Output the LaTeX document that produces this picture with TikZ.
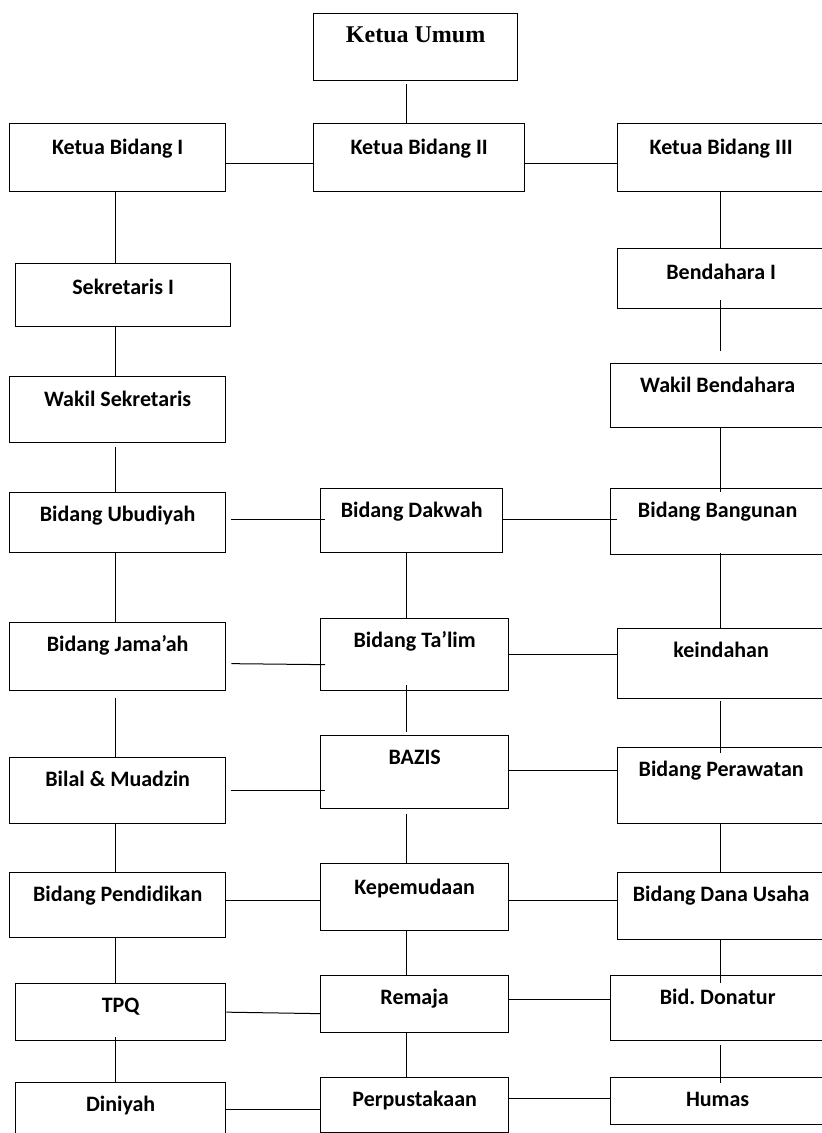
\documentclass[tikz,border=0pt]{standalone}
\usepackage{fontspec}
\setmainfont{Carlito}
\newfontfamily\judulfont{Liberation Serif}
\usetikzlibrary{positioning}

\tikzset{
  kotak/.style={draw, rectangle, inner sep=0pt, anchor=north west, line width=1.3pt,
    font=\bfseries\fontsize{22}{26}\selectfont},
  ukuran/.style n args={4}{minimum width=#1pt, minimum height=#2pt, text height=#3pt, text depth=#4pt},
  garis/.style={line width=1pt}
}

\begin{document}
\begin{tikzpicture}[line cap=butt,line join=miter,x=1pt,y=-1pt]
\useasboundingbox (0,0) rectangle (822,1133);
\clip (0,0) rectangle (822,1133);
% kolom penghubung
\coordinate (kolA) at (115,0);
\coordinate (kolB) at (406,0);
\coordinate (kolC) at (720,0);
% pimpinan
\node[kotak, ukuran={204}{67}{29}{38}, font=\judulfont\bfseries\fontsize{24}{28}\selectfont] (ku) at (313,13) {Ketua Umum};
\node[kotak, ukuran={216}{68}{31}{37}] (kb1) at (9,123) {Ketua Bidang I};
\node[kotak, ukuran={211}{68}{31}{37}] (kb2) at (313,123) {Ketua Bidang II};
\node[kotak, ukuran={207}{68}{31}{37}] (kb3) at (617,123) {Ketua Bidang III};
% sekretaris dan bendahara
\node[kotak, ukuran={215}{63}{31}{32}] (sek1) at (15,263) {Sekretaris I};
\node[kotak, ukuran={207}{60}{31}{29}] (ben1) at (617,248) {Bendahara I};
\node[kotak, ukuran={216}{66}{30}{36}] (wsek) at (9,376) {Wakil Sekretaris};
\node[kotak, ukuran={214}{64}{29}{35}] (wben) at (610,363) {Wakil Bendahara};
% bidang-bidang
\node[kotak, ukuran={216}{60}{29}{31}] (ubud) at (9,492) {Bidang Ubudiyah};
\node[kotak, ukuran={182}{64}{29}{35}] (dakwah) at (320,488) {Bidang Dakwah};
\node[kotak, ukuran={214}{66}{29}{37}] (bangun) at (610,488) {Bidang Bangunan};
\node[kotak, ukuran={216}{68}{29}{39}] (jamaah) at (9,622) {Bidang Jama’ah};
\node[kotak, ukuran={188}{72}{29}{43}] (talim) at (320,618) {Bidang Ta’lim};
\node[kotak, ukuran={207}{70}{29}{41}] (indah) at (617,628) {keindahan};
\node[kotak, ukuran={216}{66}{29}{37}] (bilal) at (9,757) {Bilal \& Muadzin};
\node[kotak, ukuran={188}{73}{29}{44}] (bazis) at (320,735) {BAZIS};
\node[kotak, ukuran={207}{76}{29}{47}] (rawat) at (617,747) {Bidang Perawatan};
\node[kotak, ukuran={216}{65}{29}{36}] (didik) at (9,872) {Bidang Pendidikan};
\node[kotak, ukuran={188}{67}{31}{36}] (muda) at (320,863) {Kepemudaan};
\node[kotak, ukuran={207}{67}{29}{38}] (danus) at (617,872) {Bidang Dana Usaha};
\node[kotak, ukuran={210}{57}{29}{28}] (tpq) at (15,983) {TPQ};
\node[kotak, ukuran={188}{57}{29}{28}] (remaja) at (320,975) {Remaja};
\node[kotak, ukuran={214}{65}{29}{36}] (donat) at (610,975) {Bid.\ Donatur};
\node[kotak, ukuran={210}{58}{29}{29}] (diniyah) at (15,1082) {Diniyah};
\node[kotak, ukuran={188}{55}{29}{26}] (perpus) at (320,1077) {Perpustakaan};
\node[kotak, ukuran={214}{47}{29}{18}] (humas) at (610,1077) {Humas};
% garis tegak
\draw[garis] ([yshift=-3pt]ku.south -| kolB) -- (kb2.north -| kolB);
\draw[garis] (kb1.south -| kolA) -- (sek1.north -| kolA);
\draw[garis] (sek1.south -| kolA) -- (wsek.north -| kolA);
\draw[garis] ([yshift=-4pt]wsek.south -| kolA) -- (ubud.north -| kolA);
\draw[garis] (ubud.south -| kolA) -- (jamaah.north -| kolA);
\draw[garis] ([yshift=-7pt]jamaah.south -| kolA) -- (bilal.north -| kolA);
\draw[garis] (bilal.south -| kolA) -- (didik.north -| kolA);
\draw[garis] (didik.south -| kolA) -- (tpq.north -| kolA);
\draw[garis] ([yshift=4pt]tpq.south -| kolA) -- (diniyah.north -| kolA);
\draw[garis] (dakwah.south -| kolB) -- (talim.north -| kolB);
\draw[garis] ([yshift=6pt]talim.south -| kolB) -- ([yshift=3pt]bazis.north -| kolB);
\draw[garis] ([yshift=-5pt]bazis.south -| kolB) -- (muda.north -| kolB);
\draw[garis] (muda.south -| kolB) -- (remaja.north -| kolB);
\draw[garis] (remaja.south -| kolB) -- (perpus.north -| kolB);
\draw[garis] (kb3.south -| kolC) -- (ben1.north -| kolC);
\draw[garis] ([yshift=9pt]ben1.south -| kolC) -- ([yshift=12pt]wben.north -| kolC);
\draw[garis] (wben.south -| kolC) -- ([yshift=-4pt]bangun.north -| kolC);
\draw[garis] ([yshift=2pt]bangun.south -| kolC) -- (indah.north -| kolC);
\draw[garis] ([yshift=-2pt]indah.south -| kolC) -- ([yshift=-6pt]rawat.north -| kolC);
\draw[garis] (rawat.south -| kolC) -- (danus.north -| kolC);
\draw[garis] (danus.south -| kolC) -- ([yshift=-8pt]donat.north -| kolC);
\draw[garis] ([yshift=-4pt]donat.south -| kolC) -- ([yshift=-6pt]humas.north -| kolC);
% garis mendatar
\draw[garis] ([yshift=-6pt]kb1.east) -- ([yshift=-6pt]kb2.west);
\draw[garis] ([yshift=-6pt]kb2.east) -- ([yshift=-6pt]kb3.west);
\draw[garis] ([xshift=5pt,yshift=3pt]ubud.east) -- ([xshift=5pt,yshift=1pt]dakwah.west);
\draw[garis] ([yshift=1pt]dakwah.east) -- ([xshift=7pt,yshift=2pt]bangun.west);
\draw[garis] ([xshift=5pt,yshift=-7pt]jamaah.east) -- ([xshift=5pt,yshift=-10pt]talim.west);
\draw[garis] (talim.east) -- ([yshift=9pt]indah.west);
\draw[garis] ([xshift=5pt]bilal.east) -- ([xshift=5pt,yshift=-18.5pt]bazis.west);
\draw[garis] ([yshift=1.5pt]bazis.east) -- ([yshift=15pt]rawat.west);
\draw[garis] ([yshift=4.5pt]didik.east) -- ([yshift=-3.5pt]muda.west);
\draw[garis] ([yshift=-3.5pt]muda.east) -- ([yshift=5.5pt]danus.west);
\draw[garis] (tpq.east) -- ([yshift=-9.5pt]remaja.west);
\draw[garis] ([yshift=4.5pt]remaja.east) -- ([yshift=8.5pt]donat.west);
\draw[garis, line width=1.6pt] ([yshift=2pt]diniyah.east) -- ([yshift=-4.5pt]perpus.west);
\draw[garis] ([yshift=6.5pt]perpus.east) -- ([yshift=2.5pt]humas.west);
\end{tikzpicture}
\end{document}
